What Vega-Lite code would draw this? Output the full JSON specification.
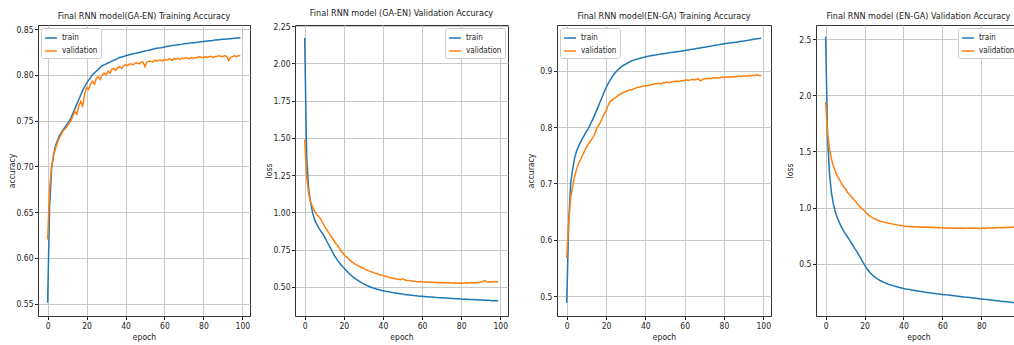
{
"$schema": "https://vega.github.io/schema/vega-lite/v6.json",
"padding": {"left": 6, "top": 8, "right": 0, "bottom": 0},
"background": "white",
"config": {
  "font": "Liberation Sans Narrow, DejaVu Sans Condensed, Roboto Condensed, sans-serif",
  "view": {"stroke": "#333333", "strokeWidth": 1},
  "title": {"fontSize": 9, "fontWeight": "normal", "color": "#222222", "offset": 4, "font": "Liberation Sans Narrow, DejaVu Sans Condensed, sans-serif"},
  "axis": {"domain": false, "labelFontSize": 8.5, "labelColor": "#222222", "tickColor": "#222222", "tickSize": 3.5, "labelPadding": 1.5, "gridColor": "#c8c8c8", "gridWidth": 1, "titleFontSize": 8.5, "titleFontWeight": "normal", "titleColor": "#222222", "titlePadding": 3, "labelFont": "Liberation Sans Narrow, DejaVu Sans Condensed, sans-serif", "titleFont": "Liberation Sans Narrow, DejaVu Sans Condensed, sans-serif"},
  "axisY": {"minExtent": 21, "maxExtent": 21, "titlePadding": 1},
  "legend": {"symbolType": "stroke", "symbolSize": 140, "symbolStrokeWidth": 1.5, "labelFontSize": 8, "labelColor": "#222222", "padding": 3, "rowPadding": 2, "strokeColor": "#cccccc", "fillColor": "white", "cornerRadius": 2, "offset": 3, "labelFont": "Liberation Sans Narrow, DejaVu Sans Condensed, sans-serif"}
},
"datasets": {
"ga_en_acc": [
{"epoch":0,"train":0.551,"validation":0.620},{"epoch":1,"train":0.655,"validation":0.675},{"epoch":2,"train":0.697,"validation":0.700},{"epoch":3,"train":0.712,"validation":0.712},{"epoch":4,"train":0.722,"validation":0.719},{"epoch":5,"train":0.728,"validation":0.726},{"epoch":6,"train":0.733,"validation":0.731},{"epoch":7,"train":0.737,"validation":0.735},{"epoch":8,"train":0.740,"validation":0.739},{"epoch":9,"train":0.743,"validation":0.741},
{"epoch":10,"train":0.746,"validation":0.744},{"epoch":11,"train":0.749,"validation":0.747},{"epoch":12,"train":0.753,"validation":0.750},{"epoch":13,"train":0.758,"validation":0.755},{"epoch":14,"train":0.763,"validation":0.760},{"epoch":15,"train":0.768,"validation":0.757},{"epoch":16,"train":0.773,"validation":0.766},{"epoch":17,"train":0.778,"validation":0.771},{"epoch":18,"train":0.783,"validation":0.766},{"epoch":19,"train":0.787,"validation":0.779},
{"epoch":20,"train":0.791,"validation":0.786},{"epoch":21,"train":0.794,"validation":0.784},{"epoch":22,"train":0.797,"validation":0.790},{"epoch":23,"train":0.800,"validation":0.793},{"epoch":24,"train":0.802,"validation":0.790},{"epoch":25,"train":0.804,"validation":0.796},{"epoch":26,"train":0.806,"validation":0.798},{"epoch":27,"train":0.808,"validation":0.795},{"epoch":28,"train":0.810,"validation":0.800},{"epoch":29,"train":0.811,"validation":0.802},
{"epoch":30,"train":0.812,"validation":0.800},{"epoch":31,"train":0.813,"validation":0.804},{"epoch":32,"train":0.814,"validation":0.802},{"epoch":33,"train":0.815,"validation":0.806},{"epoch":34,"train":0.816,"validation":0.807},{"epoch":35,"train":0.817,"validation":0.805},{"epoch":36,"train":0.818,"validation":0.808},{"epoch":37,"train":0.819,"validation":0.809},{"epoch":38,"train":0.8195,"validation":0.807},{"epoch":39,"train":0.820,"validation":0.810},
{"epoch":40,"train":0.821,"validation":0.811},{"epoch":41,"train":0.8215,"validation":0.810},{"epoch":42,"train":0.822,"validation":0.812},{"epoch":43,"train":0.8225,"validation":0.812},{"epoch":44,"train":0.823,"validation":0.811},{"epoch":45,"train":0.8235,"validation":0.813},{"epoch":46,"train":0.824,"validation":0.813},{"epoch":47,"train":0.8245,"validation":0.812},{"epoch":48,"train":0.825,"validation":0.814},{"epoch":49,"train":0.8255,"validation":0.814},
{"epoch":50,"train":0.826,"validation":0.809},{"epoch":51,"train":0.8265,"validation":0.814},{"epoch":52,"train":0.827,"validation":0.815},{"epoch":53,"train":0.8275,"validation":0.815},{"epoch":54,"train":0.828,"validation":0.814},{"epoch":55,"train":0.8285,"validation":0.816},{"epoch":56,"train":0.829,"validation":0.815},{"epoch":57,"train":0.8293,"validation":0.816},{"epoch":58,"train":0.8296,"validation":0.816},{"epoch":59,"train":0.830,"validation":0.815},
{"epoch":60,"train":0.8305,"validation":0.817},{"epoch":61,"train":0.831,"validation":0.816},{"epoch":62,"train":0.8313,"validation":0.817},{"epoch":63,"train":0.8316,"validation":0.817},{"epoch":64,"train":0.832,"validation":0.816},{"epoch":65,"train":0.8323,"validation":0.818},{"epoch":66,"train":0.8326,"validation":0.817},{"epoch":67,"train":0.833,"validation":0.818},{"epoch":68,"train":0.8333,"validation":0.817},{"epoch":69,"train":0.8336,"validation":0.818},
{"epoch":70,"train":0.834,"validation":0.818},{"epoch":71,"train":0.8342,"validation":0.819},{"epoch":72,"train":0.8344,"validation":0.818},{"epoch":73,"train":0.8347,"validation":0.818},{"epoch":74,"train":0.835,"validation":0.819},{"epoch":75,"train":0.8352,"validation":0.818},{"epoch":76,"train":0.8354,"validation":0.819},{"epoch":77,"train":0.8357,"validation":0.819},{"epoch":78,"train":0.836,"validation":0.820},{"epoch":79,"train":0.8362,"validation":0.819},
{"epoch":80,"train":0.8364,"validation":0.819},{"epoch":81,"train":0.8367,"validation":0.820},{"epoch":82,"train":0.837,"validation":0.819},{"epoch":83,"train":0.8372,"validation":0.820},{"epoch":84,"train":0.8374,"validation":0.820},{"epoch":85,"train":0.8377,"validation":0.819},{"epoch":86,"train":0.838,"validation":0.820},{"epoch":87,"train":0.8382,"validation":0.820},{"epoch":88,"train":0.8384,"validation":0.821},{"epoch":89,"train":0.8386,"validation":0.820},
{"epoch":90,"train":0.8388,"validation":0.820},{"epoch":91,"train":0.839,"validation":0.821},{"epoch":92,"train":0.8392,"validation":0.820},{"epoch":93,"train":0.8394,"validation":0.816},{"epoch":94,"train":0.8396,"validation":0.819},{"epoch":95,"train":0.8398,"validation":0.820},{"epoch":96,"train":0.840,"validation":0.821},{"epoch":97,"train":0.8402,"validation":0.820},{"epoch":98,"train":0.8404,"validation":0.821},{"epoch":99,"train":0.8406,"validation":0.821}
],
"ga_en_loss": [
{"epoch":0,"train":2.17,"validation":1.49},{"epoch":1,"train":1.38,"validation":1.24},{"epoch":2,"train":1.16,"validation":1.13},{"epoch":3,"train":1.07,"validation":1.07},{"epoch":4,"train":1.00,"validation":1.04},{"epoch":5,"train":0.955,"validation":1.01},{"epoch":6,"train":0.925,"validation":0.99},{"epoch":7,"train":0.90,"validation":0.975},{"epoch":8,"train":0.88,"validation":0.96},{"epoch":9,"train":0.86,"validation":0.935},
{"epoch":10,"train":0.84,"validation":0.91},{"epoch":11,"train":0.815,"validation":0.89},{"epoch":12,"train":0.79,"validation":0.87},{"epoch":13,"train":0.765,"validation":0.85},{"epoch":14,"train":0.74,"validation":0.83},{"epoch":15,"train":0.715,"validation":0.81},{"epoch":16,"train":0.695,"validation":0.79},{"epoch":17,"train":0.675,"validation":0.775},{"epoch":18,"train":0.658,"validation":0.755},{"epoch":19,"train":0.643,"validation":0.735},
{"epoch":20,"train":0.628,"validation":0.72},{"epoch":21,"train":0.613,"validation":0.705},{"epoch":22,"train":0.600,"validation":0.695},{"epoch":23,"train":0.587,"validation":0.68},{"epoch":24,"train":0.575,"validation":0.67},{"epoch":25,"train":0.564,"validation":0.66},{"epoch":26,"train":0.554,"validation":0.652},{"epoch":27,"train":0.545,"validation":0.645},{"epoch":28,"train":0.537,"validation":0.638},{"epoch":29,"train":0.529,"validation":0.63},
{"epoch":30,"train":0.522,"validation":0.626},{"epoch":31,"train":0.515,"validation":0.618},{"epoch":32,"train":0.509,"validation":0.614},{"epoch":33,"train":0.503,"validation":0.606},{"epoch":34,"train":0.498,"validation":0.602},{"epoch":35,"train":0.493,"validation":0.598},{"epoch":36,"train":0.489,"validation":0.592},{"epoch":37,"train":0.485,"validation":0.59},{"epoch":38,"train":0.481,"validation":0.584},{"epoch":39,"train":0.478,"validation":0.58},
{"epoch":40,"train":0.475,"validation":0.576},{"epoch":41,"train":0.472,"validation":0.573},{"epoch":42,"train":0.469,"validation":0.568},{"epoch":43,"train":0.467,"validation":0.566},{"epoch":44,"train":0.464,"validation":0.561},{"epoch":45,"train":0.462,"validation":0.559},{"epoch":46,"train":0.460,"validation":0.556},{"epoch":47,"train":0.458,"validation":0.553},{"epoch":48,"train":0.456,"validation":0.552},{"epoch":49,"train":0.454,"validation":0.549},
{"epoch":50,"train":0.452,"validation":0.555},{"epoch":51,"train":0.450,"validation":0.548},{"epoch":52,"train":0.448,"validation":0.545},{"epoch":53,"train":0.447,"validation":0.543},{"epoch":54,"train":0.445,"validation":0.541},{"epoch":55,"train":0.444,"validation":0.540},{"epoch":56,"train":0.442,"validation":0.538},{"epoch":57,"train":0.441,"validation":0.537},{"epoch":58,"train":0.439,"validation":0.535},{"epoch":59,"train":0.438,"validation":0.536},
{"epoch":60,"train":0.437,"validation":0.534},{"epoch":61,"train":0.436,"validation":0.533},{"epoch":62,"train":0.435,"validation":0.533},{"epoch":63,"train":0.434,"validation":0.532},{"epoch":64,"train":0.433,"validation":0.531},{"epoch":65,"train":0.432,"validation":0.532},{"epoch":66,"train":0.431,"validation":0.530},{"epoch":67,"train":0.430,"validation":0.531},{"epoch":68,"train":0.429,"validation":0.529},{"epoch":69,"train":0.428,"validation":0.530},
{"epoch":70,"train":0.427,"validation":0.528},{"epoch":71,"train":0.426,"validation":0.529},{"epoch":72,"train":0.425,"validation":0.528},{"epoch":73,"train":0.425,"validation":0.527},{"epoch":74,"train":0.424,"validation":0.529},{"epoch":75,"train":0.423,"validation":0.527},{"epoch":76,"train":0.422,"validation":0.526},{"epoch":77,"train":0.421,"validation":0.528},{"epoch":78,"train":0.421,"validation":0.526},{"epoch":79,"train":0.420,"validation":0.525},
{"epoch":80,"train":0.419,"validation":0.527},{"epoch":81,"train":0.418,"validation":0.525},{"epoch":82,"train":0.418,"validation":0.526},{"epoch":83,"train":0.417,"validation":0.528},{"epoch":84,"train":0.416,"validation":0.527},{"epoch":85,"train":0.416,"validation":0.529},{"epoch":86,"train":0.415,"validation":0.528},{"epoch":87,"train":0.414,"validation":0.530},{"epoch":88,"train":0.414,"validation":0.529},{"epoch":89,"train":0.413,"validation":0.531},
{"epoch":90,"train":0.412,"validation":0.532},{"epoch":91,"train":0.412,"validation":0.536},{"epoch":92,"train":0.411,"validation":0.542},{"epoch":93,"train":0.410,"validation":0.534},{"epoch":94,"train":0.410,"validation":0.533},{"epoch":95,"train":0.409,"validation":0.535},{"epoch":96,"train":0.408,"validation":0.534},{"epoch":97,"train":0.408,"validation":0.536},{"epoch":98,"train":0.407,"validation":0.535},{"epoch":99,"train":0.406,"validation":0.535}
],
"en_ga_acc": [
{"epoch":0,"train":0.488,"validation":0.568},{"epoch":1,"train":0.630,"validation":0.630},{"epoch":2,"train":0.700,"validation":0.675},{"epoch":3,"train":0.725,"validation":0.695},{"epoch":4,"train":0.745,"validation":0.712},{"epoch":5,"train":0.757,"validation":0.725},{"epoch":6,"train":0.766,"validation":0.735},{"epoch":7,"train":0.773,"validation":0.742},{"epoch":8,"train":0.780,"validation":0.750},{"epoch":9,"train":0.786,"validation":0.757},
{"epoch":10,"train":0.792,"validation":0.764},{"epoch":11,"train":0.798,"validation":0.770},{"epoch":12,"train":0.805,"validation":0.775},{"epoch":13,"train":0.812,"validation":0.780},{"epoch":14,"train":0.820,"validation":0.786},{"epoch":15,"train":0.828,"validation":0.795},{"epoch":16,"train":0.836,"validation":0.802},{"epoch":17,"train":0.845,"validation":0.808},{"epoch":18,"train":0.853,"validation":0.815},{"epoch":19,"train":0.862,"validation":0.823},
{"epoch":20,"train":0.870,"validation":0.829},{"epoch":21,"train":0.877,"validation":0.838},{"epoch":22,"train":0.883,"validation":0.845},{"epoch":23,"train":0.889,"validation":0.848},{"epoch":24,"train":0.894,"validation":0.851},{"epoch":25,"train":0.898,"validation":0.853},{"epoch":26,"train":0.902,"validation":0.856},{"epoch":27,"train":0.905,"validation":0.858},{"epoch":28,"train":0.908,"validation":0.860},{"epoch":29,"train":0.910,"validation":0.862},
{"epoch":30,"train":0.912,"validation":0.863},{"epoch":31,"train":0.914,"validation":0.865},{"epoch":32,"train":0.916,"validation":0.866},{"epoch":33,"train":0.9175,"validation":0.866},{"epoch":34,"train":0.919,"validation":0.868},{"epoch":35,"train":0.920,"validation":0.869},{"epoch":36,"train":0.921,"validation":0.871},{"epoch":37,"train":0.922,"validation":0.871},{"epoch":38,"train":0.923,"validation":0.872},{"epoch":39,"train":0.924,"validation":0.873},
{"epoch":40,"train":0.925,"validation":0.873},{"epoch":41,"train":0.9257,"validation":0.874},{"epoch":42,"train":0.9264,"validation":0.874},{"epoch":43,"train":0.927,"validation":0.876},{"epoch":44,"train":0.9276,"validation":0.876},{"epoch":45,"train":0.928,"validation":0.877},{"epoch":46,"train":0.9287,"validation":0.877},{"epoch":47,"train":0.9293,"validation":0.878},{"epoch":48,"train":0.9299,"validation":0.877},{"epoch":49,"train":0.9305,"validation":0.879},
{"epoch":50,"train":0.931,"validation":0.879},{"epoch":51,"train":0.9315,"validation":0.880},{"epoch":52,"train":0.932,"validation":0.879},{"epoch":53,"train":0.9325,"validation":0.880},{"epoch":54,"train":0.933,"validation":0.881},{"epoch":55,"train":0.9335,"validation":0.881},{"epoch":56,"train":0.934,"validation":0.882},{"epoch":57,"train":0.9345,"validation":0.881},{"epoch":58,"train":0.935,"validation":0.882},{"epoch":59,"train":0.9355,"validation":0.883},
{"epoch":60,"train":0.936,"validation":0.883},{"epoch":61,"train":0.9366,"validation":0.884},{"epoch":62,"train":0.9372,"validation":0.883},{"epoch":63,"train":0.9378,"validation":0.884},{"epoch":64,"train":0.9384,"validation":0.885},{"epoch":65,"train":0.939,"validation":0.884},{"epoch":66,"train":0.9396,"validation":0.885},{"epoch":67,"train":0.9402,"validation":0.886},{"epoch":68,"train":0.9408,"validation":0.882},{"epoch":69,"train":0.9414,"validation":0.885},
{"epoch":70,"train":0.942,"validation":0.886},{"epoch":71,"train":0.9426,"validation":0.886},{"epoch":72,"train":0.9432,"validation":0.887},{"epoch":73,"train":0.9438,"validation":0.886},{"epoch":74,"train":0.9444,"validation":0.887},{"epoch":75,"train":0.945,"validation":0.888},{"epoch":76,"train":0.9456,"validation":0.887},{"epoch":77,"train":0.9462,"validation":0.888},{"epoch":78,"train":0.9468,"validation":0.888},{"epoch":79,"train":0.9474,"validation":0.889},
{"epoch":80,"train":0.948,"validation":0.888},{"epoch":81,"train":0.9485,"validation":0.889},{"epoch":82,"train":0.949,"validation":0.889},{"epoch":83,"train":0.9495,"validation":0.889},{"epoch":84,"train":0.950,"validation":0.890},{"epoch":85,"train":0.9505,"validation":0.889},{"epoch":86,"train":0.951,"validation":0.890},{"epoch":87,"train":0.9515,"validation":0.890},{"epoch":88,"train":0.952,"validation":0.891},{"epoch":89,"train":0.9525,"validation":0.890},
{"epoch":90,"train":0.953,"validation":0.891},{"epoch":91,"train":0.9536,"validation":0.891},{"epoch":92,"train":0.9542,"validation":0.891},{"epoch":93,"train":0.9548,"validation":0.892},{"epoch":94,"train":0.9554,"validation":0.891},{"epoch":95,"train":0.956,"validation":0.892},{"epoch":96,"train":0.9565,"validation":0.892},{"epoch":97,"train":0.957,"validation":0.893},{"epoch":98,"train":0.9575,"validation":0.892},{"epoch":99,"train":0.958,"validation":0.892}
],
"en_ga_loss": [
{"epoch":0,"train":2.52,"validation":1.94},{"epoch":1,"train":1.62,"validation":1.66},{"epoch":2,"train":1.30,"validation":1.52},{"epoch":3,"train":1.13,"validation":1.43},{"epoch":4,"train":1.03,"validation":1.37},{"epoch":5,"train":0.96,"validation":1.32},{"epoch":6,"train":0.91,"validation":1.28},{"epoch":7,"train":0.87,"validation":1.25},{"epoch":8,"train":0.83,"validation":1.22},{"epoch":9,"train":0.80,"validation":1.19},
{"epoch":10,"train":0.77,"validation":1.17},{"epoch":11,"train":0.745,"validation":1.14},{"epoch":12,"train":0.72,"validation":1.12},{"epoch":13,"train":0.69,"validation":1.10},{"epoch":14,"train":0.665,"validation":1.08},{"epoch":15,"train":0.635,"validation":1.06},{"epoch":16,"train":0.61,"validation":1.04},{"epoch":17,"train":0.58,"validation":1.02},{"epoch":18,"train":0.55,"validation":1.00},{"epoch":19,"train":0.52,"validation":0.985},
{"epoch":20,"train":0.49,"validation":0.97},{"epoch":21,"train":0.462,"validation":0.95},{"epoch":22,"train":0.438,"validation":0.935},{"epoch":23,"train":0.418,"validation":0.92},{"epoch":24,"train":0.400,"validation":0.91},{"epoch":25,"train":0.385,"validation":0.90},{"epoch":26,"train":0.372,"validation":0.895},{"epoch":27,"train":0.361,"validation":0.885},{"epoch":28,"train":0.351,"validation":0.88},{"epoch":29,"train":0.342,"validation":0.875},
{"epoch":30,"train":0.334,"validation":0.87},{"epoch":31,"train":0.327,"validation":0.866},{"epoch":32,"train":0.32,"validation":0.862},{"epoch":33,"train":0.314,"validation":0.858},{"epoch":34,"train":0.308,"validation":0.855},{"epoch":35,"train":0.303,"validation":0.852},{"epoch":36,"train":0.298,"validation":0.85},{"epoch":37,"train":0.293,"validation":0.846},{"epoch":38,"train":0.288,"validation":0.843},{"epoch":39,"train":0.284,"validation":0.84},
{"epoch":40,"train":0.280,"validation":0.838},{"epoch":41,"train":0.276,"validation":0.834},{"epoch":42,"train":0.273,"validation":0.832},{"epoch":43,"train":0.270,"validation":0.83},{"epoch":44,"train":0.267,"validation":0.832},{"epoch":45,"train":0.264,"validation":0.829},{"epoch":46,"train":0.261,"validation":0.83},{"epoch":47,"train":0.258,"validation":0.828},{"epoch":48,"train":0.255,"validation":0.829},{"epoch":49,"train":0.253,"validation":0.826},
{"epoch":50,"train":0.250,"validation":0.828},{"epoch":51,"train":0.247,"validation":0.825},{"epoch":52,"train":0.245,"validation":0.827},{"epoch":53,"train":0.243,"validation":0.824},{"epoch":54,"train":0.240,"validation":0.826},{"epoch":55,"train":0.238,"validation":0.822},{"epoch":56,"train":0.236,"validation":0.824},{"epoch":57,"train":0.233,"validation":0.821},{"epoch":58,"train":0.231,"validation":0.823},{"epoch":59,"train":0.229,"validation":0.82},
{"epoch":60,"train":0.227,"validation":0.818},{"epoch":61,"train":0.225,"validation":0.821},{"epoch":62,"train":0.223,"validation":0.817},{"epoch":63,"train":0.221,"validation":0.82},{"epoch":64,"train":0.219,"validation":0.816},{"epoch":65,"train":0.217,"validation":0.819},{"epoch":66,"train":0.215,"validation":0.815},{"epoch":67,"train":0.213,"validation":0.818},{"epoch":68,"train":0.211,"validation":0.816},{"epoch":69,"train":0.209,"validation":0.815},
{"epoch":70,"train":0.207,"validation":0.818},{"epoch":71,"train":0.205,"validation":0.814},{"epoch":72,"train":0.203,"validation":0.817},{"epoch":73,"train":0.201,"validation":0.815},{"epoch":74,"train":0.199,"validation":0.819},{"epoch":75,"train":0.197,"validation":0.816},{"epoch":76,"train":0.195,"validation":0.818},{"epoch":77,"train":0.193,"validation":0.815},{"epoch":78,"train":0.191,"validation":0.817},{"epoch":79,"train":0.189,"validation":0.814},
{"epoch":80,"train":0.187,"validation":0.816},{"epoch":81,"train":0.185,"validation":0.819},{"epoch":82,"train":0.183,"validation":0.815},{"epoch":83,"train":0.181,"validation":0.818},{"epoch":84,"train":0.179,"validation":0.82},{"epoch":85,"train":0.177,"validation":0.817},{"epoch":86,"train":0.175,"validation":0.821},{"epoch":87,"train":0.173,"validation":0.819},{"epoch":88,"train":0.171,"validation":0.822},{"epoch":89,"train":0.169,"validation":0.82},
{"epoch":90,"train":0.167,"validation":0.823},{"epoch":91,"train":0.165,"validation":0.821},{"epoch":92,"train":0.163,"validation":0.824},{"epoch":93,"train":0.161,"validation":0.822},{"epoch":94,"train":0.159,"validation":0.825},{"epoch":95,"train":0.157,"validation":0.823},{"epoch":96,"train":0.155,"validation":0.826},{"epoch":97,"train":0.153,"validation":0.824},{"epoch":98,"train":0.151,"validation":0.827},{"epoch":99,"train":0.149,"validation":0.826}
]
},
"spacing": 16,
"resolve": {"scale": {"color": "independent"}, "legend": {"color": "independent"}},
"hconcat": [
{
"spacing": 12,
"resolve": {"scale": {"color": "independent"}, "legend": {"color": "independent"}},
"hconcat": [
{
  "width": 212, "height": 291,
  "title": "Final RNN model(GA-EN) Training Accuracy",
  "data": {"name": "ga_en_acc"},
  "transform": [{"fold": ["train", "validation"], "as": ["series", "value"]}],
  "mark": {"type": "line", "strokeWidth": 1.5, "clip": true},
  "encoding": {
    "x": {"field": "epoch", "type": "quantitative", "scale": {"domain": [-4.95, 103.95], "nice": false, "zero": false}, "axis": {"values": [0, 20, 40, 60, 80, 100], "title": "epoch"}},
    "y": {"field": "value", "type": "quantitative", "scale": {"domain": [0.5365, 0.8545], "nice": false, "zero": false}, "axis": {"values": [0.55, 0.6, 0.65, 0.7, 0.75, 0.8, 0.85], "format": ".2f", "title": "accuracy"}},
    "color": {"field": "series", "type": "nominal", "scale": {"domain": ["train", "validation"], "range": ["#1f77b4", "#ff7f0e"]}, "legend": {"orient": "top-left", "title": null}}
  }
},
{
  "width": 213, "height": 291,
  "title": "Final RNN model (GA-EN) Validation Accuracy",
  "data": {"name": "ga_en_loss"},
  "transform": [{"fold": ["train", "validation"], "as": ["series", "value"]}],
  "mark": {"type": "line", "strokeWidth": 1.5, "clip": true},
  "encoding": {
    "x": {"field": "epoch", "type": "quantitative", "scale": {"domain": [-4.95, 103.95], "nice": false, "zero": false}, "axis": {"values": [0, 20, 40, 60, 80, 100], "title": "epoch"}},
    "y": {"field": "value", "type": "quantitative", "scale": {"domain": [0.305, 2.258], "nice": false, "zero": false}, "axis": {"values": [0.5, 0.75, 1.0, 1.25, 1.5, 1.75, 2.0, 2.25], "format": ".2f", "title": "loss"}},
    "color": {"field": "series", "type": "nominal", "scale": {"domain": ["train", "validation"], "range": ["#1f77b4", "#ff7f0e"]}, "legend": {"orient": "top-right", "title": null}}
  }
}
]
},
{
"spacing": 12,
"resolve": {"scale": {"color": "independent"}, "legend": {"color": "independent"}},
"hconcat": [
{
  "width": 214, "height": 291,
  "title": "Final RNN model(EN-GA) Training Accuracy",
  "data": {"name": "en_ga_acc"},
  "transform": [{"fold": ["train", "validation"], "as": ["series", "value"]}],
  "mark": {"type": "line", "strokeWidth": 1.5, "clip": true},
  "encoding": {
    "x": {"field": "epoch", "type": "quantitative", "scale": {"domain": [-4.95, 103.95], "nice": false, "zero": false}, "axis": {"values": [0, 20, 40, 60, 80, 100], "title": "epoch"}},
    "y": {"field": "value", "type": "quantitative", "scale": {"domain": [0.4645, 0.9815], "nice": false, "zero": false}, "axis": {"values": [0.5, 0.6, 0.7, 0.8, 0.9], "format": ".1f", "title": "accuracy"}},
    "color": {"field": "series", "type": "nominal", "scale": {"domain": ["train", "validation"], "range": ["#1f77b4", "#ff7f0e"]}, "legend": {"orient": "top-left", "title": null}}
  }
},
{
  "width": 205, "height": 291,
  "title": "Final RNN model (EN-GA) Validation Accuracy",
  "data": {"name": "en_ga_loss"},
  "transform": [{"fold": ["train", "validation"], "as": ["series", "value"]}],
  "mark": {"type": "line", "strokeWidth": 1.5, "clip": true},
  "encoding": {
    "x": {"field": "epoch", "type": "quantitative", "scale": {"domain": [-4.95, 100.4], "nice": false, "zero": false}, "axis": {"values": [0, 20, 40, 60, 80], "title": "epoch"}},
    "y": {"field": "value", "type": "quantitative", "scale": {"domain": [0.035, 2.625], "nice": false, "zero": false}, "axis": {"values": [0.5, 1.0, 1.5, 2.0, 2.5], "format": ".1f", "title": "loss"}},
    "color": {"field": "series", "type": "nominal", "scale": {"domain": ["train", "validation"], "range": ["#1f77b4", "#ff7f0e"]}, "legend": {"orient": "top-right", "title": null}}
  }
}
]
}
]
}
